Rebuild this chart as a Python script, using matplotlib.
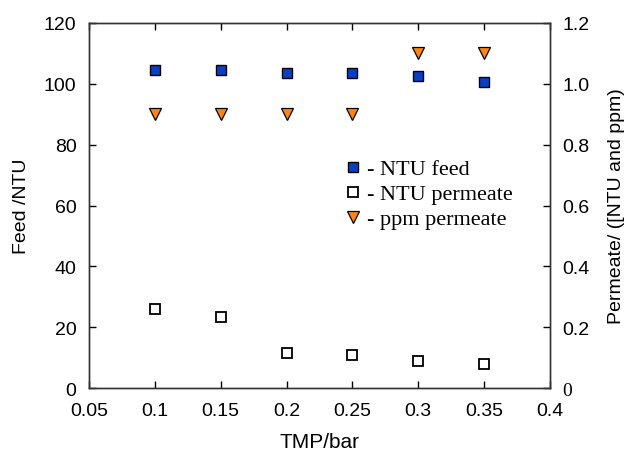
import matplotlib
matplotlib.use("Agg")
import matplotlib.pyplot as plt

tmp = [0.1, 0.15, 0.2, 0.25, 0.3, 0.35]
ntu_feed = [104.6, 104.5, 103.7, 103.6, 102.6, 100.6]
ntu_permeate = [0.26, 0.235, 0.115, 0.11, 0.09, 0.08]
ppm_permeate = [0.9, 0.9, 0.9, 0.9, 1.1, 1.1]

x_ticks = [0.05, 0.1, 0.15, 0.2, 0.25, 0.3, 0.35, 0.4]
x_labels = ["0.05", "0.1", "0.15", "0.2", "0.25", "0.3", "0.35", "0.4"]
left_ticks = [0, 20, 40, 60, 80, 100, 120]
right_ticks = [0, 0.2, 0.4, 0.6, 0.8, 1.0, 1.2]
right_labels = ["0", "0.2", "0.4", "0.6", "0.8", "1.0", "1.2"]

sans = "Liberation Sans"
serif = "Liberation Serif"
fs = 14

fig = plt.figure(figsize=(6.3, 4.52), dpi=100)
ax = fig.add_axes([0.1413, 0.139, 0.7317, 0.808])
ax2 = ax.twinx()

blue = "#0a3fc4"
orange = "#ff8410"

h1, = ax.plot(tmp, ntu_feed, linestyle="none", marker="s", markersize=7.2,
              markerfacecolor=blue, markeredgecolor="black", markeredgewidth=1.0)
h2, = ax2.plot(tmp, ntu_permeate, linestyle="none", marker="s", markersize=7.2,
               markerfacecolor="white", markeredgecolor="black", markeredgewidth=1.3)
h3, = ax2.plot(tmp, ppm_permeate, linestyle="none", marker="v", markersize=8,
               markerfacecolor=orange, markeredgecolor="black", markeredgewidth=0.9)

ax.set_xlim(0.05, 0.4)
ax.set_ylim(0, 120)
ax2.set_ylim(0, 1.2)

ax.set_xticks(x_ticks)
ax.set_xticklabels(x_labels, fontfamily=sans, fontsize=fs)
ax.set_yticks(left_ticks)
ax.set_yticklabels([str(v) for v in left_ticks], fontfamily=sans, fontsize=fs)
ax2.set_yticks(right_ticks)
ax2.set_yticklabels(right_labels, fontfamily=sans, fontsize=fs)
ax2.get_yticklabels()[0].set_fontfamily(serif)

ax.tick_params(axis="x", direction="in", top=True, length=5, width=1, pad=10)
ax.tick_params(axis="y", direction="in", length=5, width=1, pad=9)
ax2.tick_params(axis="y", direction="in", length=5, width=1, pad=9)

for a in (ax, ax2):
    for s in a.spines.values():
        s.set_linewidth(1.0)
        s.set_color("#333333")

ax.set_xlabel("TMP/bar", fontfamily=sans, fontsize=15, labelpad=9)
ax.set_ylabel("Feed /NTU", fontfamily=sans, fontsize=fs, labelpad=10)
ax2.set_ylabel("Permeate/ ([NTU and ppm)", fontfamily=sans, fontsize=fs, labelpad=13)

leg = ax.legend([h1, h2, h3], ["- NTU feed", "- NTU permeate", "- ppm permeate"],
                loc="upper left", bbox_to_anchor=(0.525, 0.652), frameon=False,
                prop={"family": serif, "size": 16}, handletextpad=0.0,
                handlelength=1.2, labelspacing=0.2, borderaxespad=0)

fig.savefig("out.png", dpi=100)
